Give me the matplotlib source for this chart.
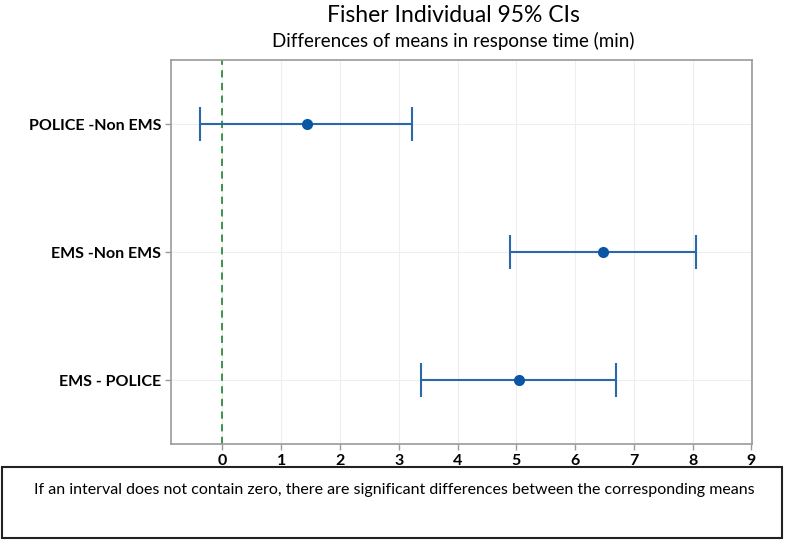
import matplotlib
matplotlib.use("Agg")
import matplotlib.pyplot as plt
from matplotlib.patches import Rectangle

plt.rcParams['font.family'] = ['Lato', 'DejaVu Sans']

comparisons = ["EMS - POLICE", "EMS -Non EMS", "POLICE -Non EMS"]
estimates = [5.04, 6.47, 1.43]
lower = [3.385, 4.885, -0.375]
upper = [6.70, 8.06, 3.23]
xticks = [0, 1, 2, 3, 4, 5, 6, 7, 8, 9]

W, H = 788, 540
fig = plt.figure(figsize=(W/100, H/100), dpi=100)
ax = fig.add_axes([171/W, 1-444/H, (752-171)/W, (444-60)/H])

ypos = list(range(1, len(comparisons)+1))
err_lo = [e - l for e, l in zip(estimates, lower)]
err_hi = [u - e for e, u in zip(estimates, upper)]
ax.errorbar(estimates, ypos, xerr=[err_lo, err_hi], fmt='o', color='#2c68a8',
            ecolor='#2c68a8', elinewidth=1.5, capsize=12, capthick=1.5,
            markersize=7, markerfacecolor='#0a56a4', markeredgecolor='#0a56a4', zorder=3)
ax.axvline(0, color='#2f8a3e', linestyle=(0, (4, 3)), linewidth=1.3, zorder=2)

ax.set_xlim(-0.876, 9.01)
ax.set_ylim(0.5, 3.5)
ax.set_xticks(xticks)
ax.set_xticklabels([str(t) for t in xticks], fontsize=11.5, fontweight='bold')
ax.set_yticks(ypos)
ax.set_yticklabels(comparisons, fontsize=11.5, fontweight='bold')
ax.grid(True, color='#eeeeee', linewidth=0.8, zorder=0)
ax.set_axisbelow(True)
for s in ax.spines.values():
    s.set_color('#9a9a9a')
    s.set_linewidth(1.2)
ax.tick_params(axis='both', colors='#9a9a9a', labelcolor='black', length=4, width=1)
ax.tick_params(axis='x', pad=3)
ax.tick_params(axis='y', pad=3)

fig.text(453/W, 1-15/H, "Fisher Individual 95% CIs", ha='center', va='center', fontsize=16.5)
fig.text(453/W, 1-41/H, "Differences of means in response time (min)", ha='center', va='center', fontsize=13.5)

rect = Rectangle((2/W, 1-538/H), (782-2)/W, (538-467)/H, transform=fig.transFigure,
                 facecolor='white', edgecolor='#222222', linewidth=1.5)
fig.patches.append(rect)
fig.text(394/W, 1-490/H,
         "If an interval does not contain zero, there are significant differences between the corresponding means",
         ha='center', va='center', fontsize=11.5)

fig.savefig("out.png", dpi=100)
